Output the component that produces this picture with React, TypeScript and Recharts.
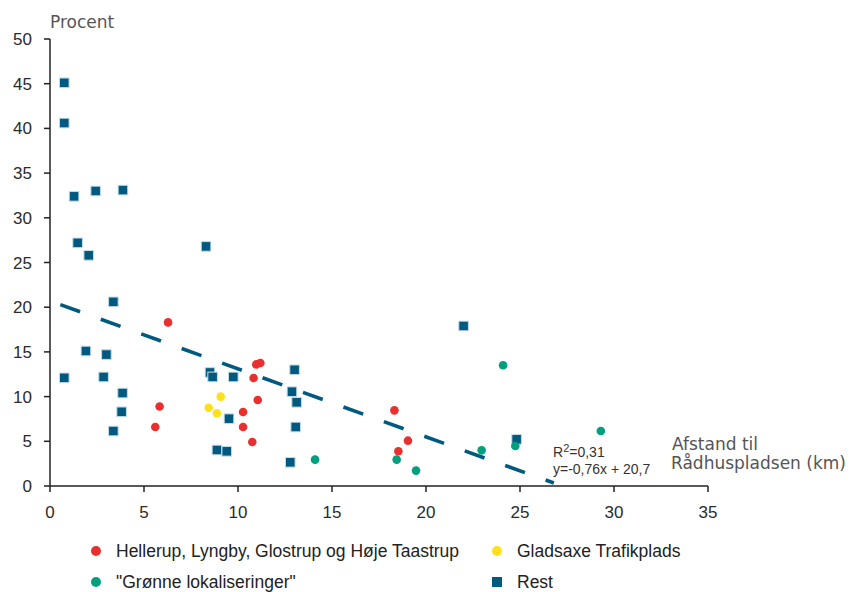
import React from 'react';
import { ScatterChart, Scatter, XAxis, YAxis, ReferenceLine } from 'recharts';

// afstand til Rådhuspladsen (km) og procent, pr. lokalisering
const hellerupEtc = [
  { x: 6.28, y: 18.3 }, { x: 5.83, y: 8.9 }, { x: 5.6, y: 6.6 },
  { x: 10.97, y: 13.6 }, { x: 11.19, y: 13.76 }, { x: 10.83, y: 12.08 },
  { x: 11.05, y: 9.62 }, { x: 10.27, y: 8.28 }, { x: 10.27, y: 6.6 },
  { x: 10.76, y: 4.92 }, { x: 18.32, y: 8.46 }, { x: 19.04, y: 5.07 },
  { x: 18.53, y: 3.88 },
];

const gladsaxe = [
  { x: 9.08, y: 10.0 }, { x: 8.44, y: 8.76 }, { x: 8.88, y: 8.13 },
];

const groenne = [
  { x: 14.1, y: 2.95 }, { x: 18.44, y: 2.95 }, { x: 19.47, y: 1.72 },
  { x: 24.1, y: 13.5 }, { x: 24.75, y: 4.47 }, { x: 22.96, y: 3.99 },
  { x: 29.3, y: 6.15 },
];

const rest = [
  { x: 0.76, y: 45.1 }, { x: 0.76, y: 40.6 }, { x: 1.28, y: 32.4 },
  { x: 2.43, y: 33.0 }, { x: 3.88, y: 33.1 }, { x: 1.47, y: 27.2 },
  { x: 8.3, y: 26.8 }, { x: 2.06, y: 25.8 }, { x: 3.37, y: 20.6 },
  { x: 1.91, y: 15.1 }, { x: 3.0, y: 14.7 }, { x: 0.76, y: 12.1 },
  { x: 2.85, y: 12.2 }, { x: 3.86, y: 10.4 }, { x: 3.81, y: 8.3 },
  { x: 3.37, y: 6.15 }, { x: 8.51, y: 12.7 }, { x: 8.65, y: 12.2 },
  { x: 9.75, y: 12.2 }, { x: 9.52, y: 7.53 }, { x: 8.88, y: 4.03 },
  { x: 9.4, y: 3.88 }, { x: 13.01, y: 13.0 }, { x: 12.87, y: 10.55 },
  { x: 13.12, y: 9.36 }, { x: 13.07, y: 6.6 }, { x: 12.78, y: 2.65 },
  { x: 22.0, y: 17.9 }, { x: 24.82, y: 5.22 },
];

const xTicks = [0, 5, 10, 15, 20, 25, 30, 35];
const yTicks = [0, 5, 10, 15, 20, 25, 30, 35, 40, 45, 50];

// lineær tendens: y = -0,76x + 20,7
const slope = -0.76;
const intercept = 20.7;
const trendFrom = 0.55;
const trendTo = 26.8;

const RED = '#E8302F';
const YELLOW = '#FFE11B';
const GREEN = '#00A07E';
const BLUE = '#005A80';

const dot = (color: string) => (props: any) => (
  <circle cx={props.cx} cy={props.cy} r={4.3} fill={color} />
);

const square = (props: any) => (
  <rect
    x={props.cx - 4.8}
    y={props.cy - 4.8}
    width={9.6}
    height={9.6}
    fill={BLUE}
    stroke="#c4dbe6"
    strokeWidth={1}
  />
);

const tickFont = { fontFamily: 'Liberation Sans, Arial, sans-serif', fontSize: 17, fill: '#2b2b2b' };
const titleFont = 'DejaVu Sans, Noto Sans, sans-serif';

const legendItems = [
  { label: 'Hellerup, Lyngby, Glostrup og Høje Taastrup', color: RED, x: 96, y: 551, box: false },
  { label: 'Gladsaxe Trafikplads', color: YELLOW, x: 497, y: 551, box: false },
  { label: '"Grønne lokaliseringer"', color: GREEN, x: 96, y: 582, box: false },
  { label: 'Rest', color: BLUE, x: 497, y: 582, box: true },
];

export default function App() {
  return (
    <div style={{ position: 'absolute', left: 0, top: 0, width: 853, height: 592, background: '#fff' }}>
      <ScatterChart width={853} height={592} margin={{ top: 39, right: 145, bottom: 76, left: 0 }}>
        <XAxis
          type="number"
          dataKey="x"
          domain={[0, 35]}
          ticks={xTicks}
          interval={0}
          height={30}
          tickSize={6}
          tickMargin={14}
          tick={tickFont}
          axisLine={{ stroke: '#222', strokeWidth: 1.5 }}
          tickLine={{ stroke: '#222', strokeWidth: 1.5 }}
        />
        <YAxis
          type="number"
          dataKey="y"
          domain={[0, 50]}
          ticks={yTicks}
          interval={0}
          width={50}
          tickSize={6}
          tickMargin={12}
          tick={tickFont}
          axisLine={{ stroke: '#222', strokeWidth: 1.5 }}
          tickLine={{ stroke: '#222', strokeWidth: 1.5 }}
        />
        <ReferenceLine
          segment={[
            { x: trendFrom, y: slope * trendFrom + intercept },
            { x: trendTo, y: slope * trendTo + intercept },
          ]}
          stroke={BLUE}
          strokeWidth={3.6}
          strokeDasharray="21 22"
          ifOverflow="visible"
        />
        <Scatter data={rest} shape={square} isAnimationActive={false} />
        <Scatter data={hellerupEtc} shape={dot(RED)} isAnimationActive={false} />
        <Scatter data={gladsaxe} shape={dot(YELLOW)} isAnimationActive={false} />
        <Scatter data={groenne} shape={dot(GREEN)} isAnimationActive={false} />
      </ScatterChart>

      <svg width={853} height={592} style={{ position: 'absolute', left: 0, top: 0, pointerEvents: 'none' }}>
        <text x={50} y={28} fontFamily={titleFont} fontSize={17} fill="#555">Procent</text>
        <text x={672} y={450} fontFamily={titleFont} fontSize={17} fill="#555">Afstand til</text>
        <text x={671} y={469} fontFamily={titleFont} fontSize={17} fill="#555">Rådhuspladsen (km)</text>
        <text x={553} y={457} fontFamily="Liberation Sans, Arial, sans-serif" fontSize={14} fill="#333">
          R<tspan dy={-5} fontSize={11}>2</tspan><tspan dy={5}>=0,31</tspan>
        </text>
        <text x={553} y={474} fontFamily="Liberation Sans, Arial, sans-serif" fontSize={14} fill="#333">
          y=-0,76x + 20,7
        </text>
        {legendItems.map((it) => (
          <g key={it.label}>
            {it.box ? (
              <rect x={it.x - 5} y={it.y - 5} width={10} height={10} fill={it.color} />
            ) : (
              <circle cx={it.x} cy={it.y} r={5} fill={it.color} />
            )}
            <text
              x={it.x + 20}
              y={it.y + 6}
              fontFamily="Liberation Sans, Arial, sans-serif"
              fontSize={17.5}
              fill="#222"
            >
              {it.label}
            </text>
          </g>
        ))}
      </svg>
    </div>
  );
}
